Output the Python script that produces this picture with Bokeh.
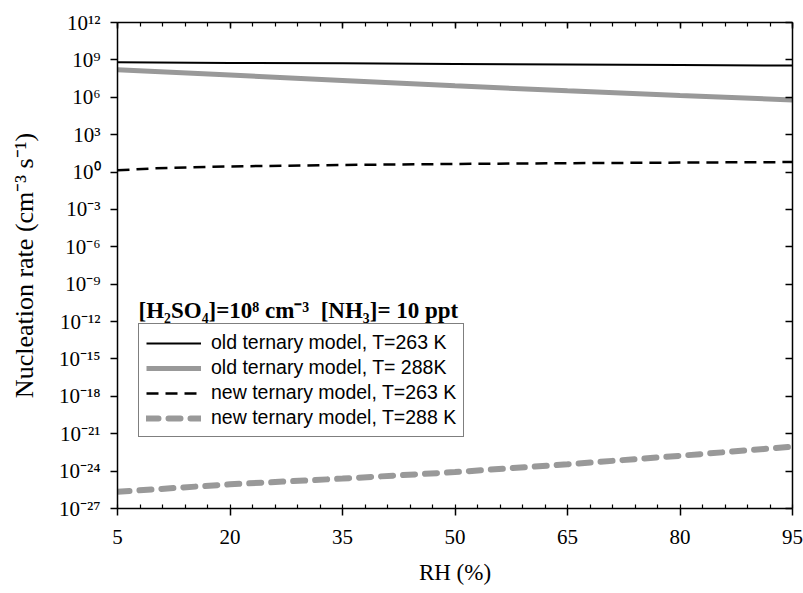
from bokeh.plotting import figure
from bokeh.models import (LinearAxis, FixedTicker, Range1d, Legend, LegendItem, Label,
                          CustomLabelingPolicy)
from bokeh.embed import file_html
from bokeh.resources import INLINE

# ---- data (log10 of nucleation rate, cm^-3 s^-1) ----
rh = [5, 10, 20, 35, 50, 65, 80, 95]
old_263 = [8.81, 8.79, 8.76, 8.72, 8.67, 8.63, 8.58, 8.54]
old_288 = [8.20, 8.06, 7.78, 7.35, 6.92, 6.52, 6.15, 5.79]
new_263 = [0.14, 0.30, 0.45, 0.57, 0.65, 0.71, 0.76, 0.80]
new_288 = [-25.66, -25.46, -25.06, -24.60, -24.08, -23.45, -22.77, -22.04]

x_ticks = [5, 20, 35, 50, 65, 80, 95]
x_minor = list(range(5, 96, 3))
y_ticks = [-27, -24, -21, -18, -15, -12, -9, -6, -3, 0, 3, 6, 9, 12]
y_tick_labels = ["10⁻²⁷", "10⁻²⁴", "10⁻²¹", "10⁻¹⁸", "10⁻¹⁵", "10⁻¹²", "10⁻⁹",
                 "10⁻⁶", "10⁻³", "10⁰", "10³", "10⁶", "10⁹", "10¹²"]

labels = ["old ternary model, T=263 K", "old ternary model, T= 288K",
          "new ternary model, T=263 K", "new ternary model, T=288 K"]

GRAY = "#999999"
SERIF = "Liberation Serif"
SANS = "Liberation Sans"

p = figure(width=803, height=593, x_range=Range1d(5, 95), y_range=Range1d(-27, 12),
           output_backend="svg", toolbar_location=None,
           min_border_left=117, min_border_right=11, min_border_top=22, min_border_bottom=85)
p.grid.visible = False
p.outline_line_color = None
p.background_fill_color = "white"
p.border_fill_color = "white"

r1 = p.line(rh, old_263, line_color="black", line_width=2)
r2 = p.line(rh, old_288, line_color=GRAY, line_width=5)
r3 = p.line(rh, new_263, line_color="black", line_width=2.5, line_dash="12 7")
r4 = p.line(rh, new_288, line_color=GRAY, line_width=6, line_dash="12 10", line_cap="round")

# ---- axes ----
xt = FixedTicker(ticks=x_ticks, minor_ticks=x_minor)
yt = FixedTicker(ticks=y_ticks, minor_ticks=[])
yover = {t: l for t, l in zip(y_ticks, y_tick_labels)}

xa = p.xaxis[0]
xa.ticker = xt
xa.axis_label = "RH (%)"
ya = p.yaxis[0]
ya.ticker = yt
ya.major_label_overrides = yover
ya.axis_label = "Nucleation rate (cm⁻³ s⁻¹)"

for ax in (xa, ya):
    ax.axis_line_color = "black"
    ax.axis_line_width = 1.5
    ax.major_tick_line_color = "black"
    ax.major_tick_line_width = 1.5
    ax.minor_tick_line_color = "black"
    ax.minor_tick_line_width = 1.2
    ax.major_tick_in = 0
    ax.major_tick_out = 7
    ax.major_label_text_font = SERIF
    ax.major_label_text_font_size = "21px"
    ax.major_label_text_color = "black"
    ax.axis_label_text_font = SERIF
    ax.axis_label_text_font_style = "normal"
    ax.axis_label_text_color = "black"

xa.minor_tick_in = 4
xa.minor_tick_out = 0
xa.major_label_standoff = 14
xa.axis_label_standoff = 13
xa.axis_label_text_font_size = "23px"
ya.minor_tick_in = 0
ya.minor_tick_out = 0
ya.major_label_standoff = 10
ya.axis_label_standoff = 17
ya.axis_label_text_font_size = "26px"

top = LinearAxis(ticker=xt, major_tick_in=6, major_tick_out=0, minor_tick_in=4, minor_tick_out=0,
                 major_label_policy=CustomLabelingPolicy(code="return []"),
                 major_label_text_font_size="0px", major_label_standoff=0, axis_label_standoff=0,
                 axis_line_color="black", axis_line_width=1.5,
                 major_tick_line_color="black", major_tick_line_width=1.5,
                 minor_tick_line_color="black", minor_tick_line_width=1.2)
right = LinearAxis(ticker=yt, major_tick_in=7, major_tick_out=0, minor_tick_in=0, minor_tick_out=0,
                   major_label_policy=CustomLabelingPolicy(code="return []"),
                   major_label_text_font_size="0px", major_label_standoff=0, axis_label_standoff=0,
                   axis_line_color="black", axis_line_width=1.5,
                   major_tick_line_color="black", major_tick_line_width=1.5)
p.add_layout(top, "above")
p.add_layout(right, "right")

# ---- annotation ----
p.add_layout(Label(x=7.8, y=-11.13, text="[H₂SO₄]=10⁸ cm⁻³\u00a0\u00a0[NH₃]= 10 ppt",
                   text_font=SERIF, text_font_style="bold", text_font_size="23px",
                   text_color="black", text_baseline="alphabetic", text_align="left"))

# ---- legend ----
legend = Legend(items=[LegendItem(label=l, renderers=[r]) for l, r in zip(labels, [r1, r2, r3, r4])],
                location=(21, 71), orientation="vertical",
                glyph_width=55, glyph_height=20, label_height=20, spacing=2, padding=7,
                label_standoff=10, margin=0,
                label_text_font=SANS, label_text_font_size="19.5px", label_text_color="black",
                border_line_color="black", border_line_width=1.5,
                background_fill_color="white", background_fill_alpha=1.0)
p.add_layout(legend)

open("out.html", "w").write(file_html(p, INLINE))
